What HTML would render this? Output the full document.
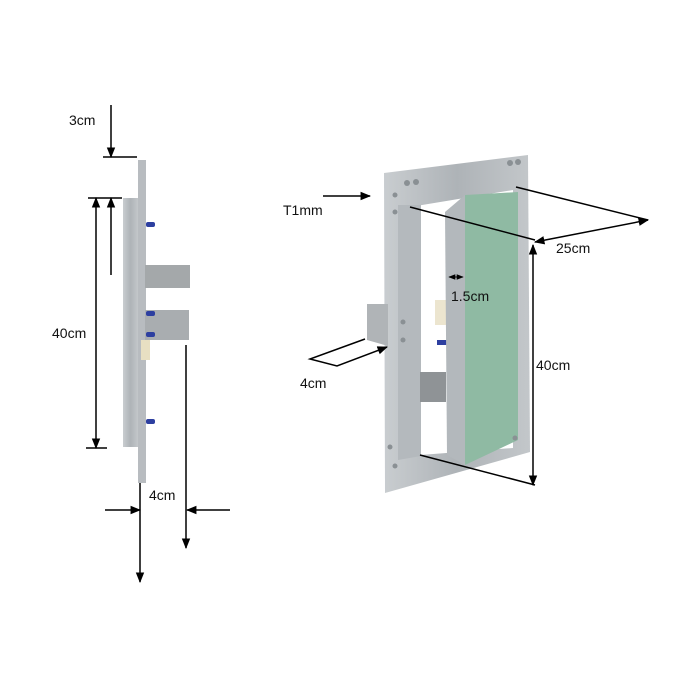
<!DOCTYPE html>
<html><head><style>
html,body{margin:0;padding:0;background:#fff}
svg{display:block}
text{font-family:"Liberation Sans",Arial,sans-serif;font-size:14px;fill:#111}
</style></head><body>
<svg width="690" height="690" viewBox="0 0 690 690" xmlns="http://www.w3.org/2000/svg">
<defs>
<marker id="a" viewBox="0 0 10 10" refX="9" refY="5" markerWidth="7" markerHeight="7" orient="auto-start-reverse"><path d="M0,1 L10,5 L0,9 z" fill="#000"/></marker>
<linearGradient id="al" x1="0" x2="1"><stop offset="0" stop-color="#c9cdd0"/><stop offset="0.5" stop-color="#aeb3b7"/><stop offset="1" stop-color="#c3c7ca"/></linearGradient>
</defs>
<!-- LEFT SIDE VIEW -->
<rect x="138" y="160" width="8" height="323" fill="#b8bcc0"/>
<rect x="123" y="198" width="15" height="249" fill="url(#al)"/>
<rect x="145" y="265" width="45" height="23" fill="#a4a8aa"/>
<rect x="145" y="310" width="44" height="30" fill="#a9adb0"/>
<rect x="141" y="340" width="9" height="20" fill="#e8dfc2"/>
<g fill="#2d3fa0">
<rect x="146" y="222" width="9" height="5" rx="2"/><rect x="146" y="311" width="9" height="5" rx="2"/>
<rect x="146" y="332" width="9" height="5" rx="2"/><rect x="146" y="419" width="9" height="5" rx="2"/>
</g>
<g stroke="#000" stroke-width="1.5" fill="none">
<line x1="111" y1="105" x2="111" y2="157" marker-end="url(#a)"/>
<line x1="111" y1="198" x2="111" y2="275" marker-start="url(#a)"/>
<line x1="103" y1="157" x2="137" y2="157"/>
<line x1="88" y1="198" x2="122" y2="198"/>
<line x1="96" y1="198" x2="96" y2="448" marker-start="url(#a)" marker-end="url(#a)"/>
<line x1="86" y1="448" x2="107" y2="448"/>
<line x1="105" y1="510" x2="140" y2="510" marker-end="url(#a)"/>
<line x1="230" y1="510" x2="187" y2="510" marker-end="url(#a)"/>
<line x1="140" y1="483" x2="140" y2="582" marker-end="url(#a)"/>
<line x1="186" y1="345" x2="186" y2="548" marker-end="url(#a)"/>
</g>
<text x="69" y="125">3cm</text>
<text x="52" y="338">40cm</text>
<text x="149" y="500">4cm</text>
<!-- RIGHT PERSPECTIVE VIEW -->
<polygon points="384,173 528,155 530,452 385,493" fill="url(#al)"/>
<polygon points="410,207 513,190 513,448 420,455" fill="#fff"/>
<polygon points="398,205 421,205 421,456 398,460" fill="#b4b9bd"/>
<polygon points="367,304 388,304 388,346 367,340" fill="#b0b4b7"/>
<rect x="420" y="372" width="26" height="30" fill="#8f9396"/>
<rect x="435" y="300" width="12" height="25" fill="#ece5cf"/>
<rect x="437" y="340" width="10" height="5" fill="#2d3fa0"/>
<polygon points="445,212 465,195 465,465 447,455" fill="#b3b8bc"/>
<polygon points="465,195 518,192 518,440 465,465" fill="#8fbaa3"/>
<g fill="#8a9094">
<circle cx="407" cy="183" r="3"/><circle cx="416" cy="182" r="3"/><circle cx="510" cy="163" r="3"/><circle cx="518" cy="162" r="3"/>
<circle cx="395" cy="195" r="2.5"/><circle cx="395" cy="212" r="2.5"/><circle cx="403" cy="322" r="2.5"/><circle cx="403" cy="340" r="2.5"/>
<circle cx="390" cy="447" r="2.5"/><circle cx="395" cy="466" r="2.5"/><circle cx="515" cy="438" r="2.5"/>
</g>
<g stroke="#000" stroke-width="1.5" fill="none">
<line x1="323" y1="196" x2="370" y2="196" marker-end="url(#a)"/>
<line x1="410" y1="207" x2="535" y2="240"/>
<line x1="516" y1="187" x2="648" y2="220"/>
<line x1="648" y1="220" x2="535" y2="242" marker-start="url(#a)" marker-end="url(#a)"/>
<line x1="533" y1="245" x2="533" y2="485" marker-start="url(#a)" marker-end="url(#a)"/>
<line x1="420" y1="455" x2="535" y2="485"/>
<line x1="449" y1="277" x2="463" y2="277" stroke-width="1" marker-start="url(#a)" marker-end="url(#a)"/>
<polyline points="387,347 337,366 310,359 365,339" marker-start="url(#a)"/>
</g>
<text x="283" y="215">T1mm</text>
<text x="556" y="253">25cm</text>
<text x="451" y="301">1.5cm</text>
<text x="536" y="370">40cm</text>
<text x="300" y="388">4cm</text>
</svg>
</body></html>
